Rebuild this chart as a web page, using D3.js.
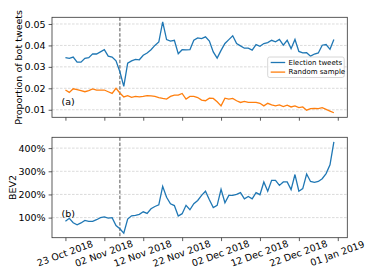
<!DOCTYPE html>
<html>
<head>
<meta charset="utf-8">
<script src="https://cdn.jsdelivr.net/npm/d3@7"></script>
<style>
  body { margin: 0; background: #fff; }
  text { font-family: "DejaVu Sans", sans-serif; fill: #000; }
</style>
</head>
<body>
<div id="chart"></div>
<script>
// daily values, 23 Oct 2018 .. 31 Dec 2018
var startDay = "2018-10-23";
var electionDay = "2018-11-06";

var electionTweets = [
  0.0343, 0.0340, 0.0346, 0.0322, 0.0322, 0.0340, 0.0343, 0.0361, 0.0360, 0.0370,
  0.0380, 0.0350, 0.0346, 0.0328, 0.0277, 0.0209, 0.0317, 0.0328, 0.0335, 0.0333,
  0.0354, 0.0365, 0.0380, 0.0400, 0.0416, 0.0510, 0.0427, 0.0420, 0.0424, 0.0361,
  0.0380, 0.0379, 0.0380, 0.0424, 0.0435, 0.0432, 0.0440, 0.0420, 0.0370, 0.0341,
  0.0377, 0.0409, 0.0427, 0.0445, 0.0409, 0.0398, 0.0387, 0.0387, 0.0378, 0.0404,
  0.0396, 0.0409, 0.0413, 0.0424, 0.0417, 0.0428, 0.0401, 0.0424, 0.0385, 0.0428,
  0.0372, 0.0365, 0.0366, 0.0350, 0.0360, 0.0365, 0.0401, 0.0404, 0.0382, 0.0428
];

var randomSample = [
  0.0192, 0.0181, 0.0198, 0.0194, 0.0189, 0.0184, 0.0189, 0.0197, 0.0192, 0.0192,
  0.0192, 0.0184, 0.0176, 0.0200, 0.0178, 0.0160, 0.0166, 0.0158, 0.0162, 0.0160,
  0.0162, 0.0166, 0.0165, 0.0162, 0.0157, 0.0153, 0.0150, 0.0162, 0.0168, 0.0168,
  0.0176, 0.0150, 0.0162, 0.0162, 0.0157, 0.0145, 0.0142, 0.0154, 0.0153, 0.0137,
  0.0118, 0.0154, 0.0150, 0.0153, 0.0142, 0.0134, 0.0139, 0.0134, 0.0134, 0.0134,
  0.0130, 0.0118, 0.0130, 0.0123, 0.0118, 0.0123, 0.0115, 0.0121, 0.0113, 0.0118,
  0.0110, 0.0113, 0.0098, 0.0105, 0.0106, 0.0105, 0.0110, 0.0102, 0.0094, 0.0086
];

var bev2 = [
  84, 97, 78, 69, 77, 88, 84, 84, 91, 100,
  103, 98, 100, 66, 52, 33, 94, 108, 110, 114,
  125, 118, 138, 148, 155, 235, 188, 160, 152, 107,
  117, 153, 134, 160, 174, 196, 214, 177, 143, 153,
  222, 164, 196, 196, 200, 208, 181, 191, 181, 208,
  199, 254, 214, 261, 261, 239, 254, 254, 221, 286,
  214, 225, 288, 256, 252, 256, 268, 290, 328, 427
];

var xTickLabels = ["2018-10-23", "2018-11-02", "2018-11-12", "2018-11-22",
  "2018-12-02", "2018-12-12", "2018-12-22", "2019-01-01"];
var topTicks = [0.01, 0.02, 0.03, 0.04, 0.05];
var bottomTicks = [100, 200, 300, 400];
var seriesNames = ["Election tweets", "Random sample"];

var svgWidth = 374;
var svgHeight = 280;
var plotLeft = 52, plotRight = 347.3;
var topPanel = { top: 17.3, bottom: 117.3 };
var botPanel = { top: 137.3, bottom: 237.7 };
var blue = "#1f77b4", orange = "#ff7f0e";

function toDate(s) { return new Date(s + "T00:00:00Z"); }
var day0 = toDate(startDay);
var days = electionTweets.map((d, i) => new Date(day0.getTime() + i * 864e5));

var svg = d3.select("#chart")
  .append("svg")
  .attr("width", svgWidth)
  .attr("height", svgHeight);

// matplotlib style 5% margins
function padded(ext) {
  var a = +ext[0], b = +ext[1];
  var p = (b - a) * 0.05;
  return [a - p, b + p];
}

var xd = padded(d3.extent(days));
var xScale = d3.scaleUtc()
  .domain([new Date(xd[0]), new Date(xd[1])])
  .range([plotLeft, plotRight]);

var yTop = d3.scaleLinear()
  .domain(padded(d3.extent(electionTweets.concat(randomSample))))
  .range([topPanel.bottom, topPanel.top]);

var yBot = d3.scaleLinear()
  .domain(padded(d3.extent(bev2)))
  .range([botPanel.bottom, botPanel.top]);

var tickDates = xTickLabels.map(toDate);
var months = ["Jan", "Feb", "Mar", "Apr", "May", "Jun", "Jul", "Aug", "Sep", "Oct", "Nov", "Dec"];
function fmtDate(d) {
  var dd = d.getUTCDate();
  return (dd < 10 ? "0" + dd : dd) + " " + months[d.getUTCMonth()] + " " + d.getUTCFullYear();
}

function drawPanel(p, yScale, ticks, fmt, showXLabels) {
  var g = svg.append("g");

  // horizontal grid
  g.selectAll(".grid")
    .data(ticks)
    .enter()
    .append("line")
    .attr("x1", plotLeft).attr("x2", plotRight)
    .attr("y1", d => yScale(d)).attr("y2", d => yScale(d))
    .attr("stroke", "#cccccc")
    .attr("stroke-width", 0.7)
    .attr("stroke-dasharray", "2.6,1.4");

  // election day marker
  var ex = xScale(toDate(electionDay));
  g.append("line")
    .attr("x1", ex).attr("x2", ex)
    .attr("y1", p.top).attr("y2", p.bottom)
    .attr("stroke", "#555")
    .attr("stroke-width", 1)
    .attr("stroke-dasharray", "3.5,1.8");

  var leftAxis = d3.axisLeft(yScale)
    .tickValues(ticks)
    .tickFormat(fmt)
    .tickSize(3.4)
    .tickPadding(3);
  var yAx = g.append("g")
    .attr("transform", `translate(${plotLeft},0)`)
    .call(leftAxis);
  yAx.select(".domain").remove();
  yAx.selectAll("line").attr("stroke", "#333").attr("stroke-width", 0.8);
  yAx.selectAll("text").attr("font-size", 9.5).attr("font-family", "DejaVu Sans").attr("fill", "#000");

  var bottomAxis = d3.axisBottom(xScale)
    .tickValues(tickDates)
    .tickSize(3.4)
    .tickFormat("");
  var xAx = g.append("g")
    .attr("transform", `translate(0,${p.bottom})`)
    .call(bottomAxis);
  xAx.select(".domain").remove();
  xAx.selectAll("line").attr("stroke", "#333").attr("stroke-width", 0.8);

  if (showXLabels) {
    g.selectAll(".xlab")
      .data(tickDates)
      .enter()
      .append("text")
      .attr("transform", d => `translate(${xScale(d) - 0.5},${p.bottom + 15.5}) rotate(-20)`)
      .attr("text-anchor", "middle")
      .attr("dominant-baseline", "central")
      .attr("font-size", 9.5)
      .text(d => fmtDate(d));
  }
  return g;
}

var gTop = drawPanel(topPanel, yTop, topTicks, d3.format(".2f"), false);
var gBot = drawPanel(botPanel, yBot, bottomTicks, d => d + "%", true);

var makeLine = function(yScale) {
  return d3.line()
    .x((d, i) => xScale(days[i]))
    .y(d => yScale(d));
};

gTop.append("path")
  .datum(electionTweets)
  .attr("fill", "none")
  .attr("stroke", blue)
  .attr("stroke-width", 1.3)
  .attr("d", makeLine(yTop));

gTop.append("path")
  .datum(randomSample)
  .attr("fill", "none")
  .attr("stroke", orange)
  .attr("stroke-width", 1.3)
  .attr("d", makeLine(yTop));

gBot.append("path")
  .datum(bev2)
  .attr("fill", "none")
  .attr("stroke", blue)
  .attr("stroke-width", 1.3)
  .attr("d", makeLine(yBot));

// frames
[topPanel, botPanel].forEach(function(p) {
  svg.append("rect")
    .attr("x", plotLeft).attr("y", p.top)
    .attr("width", plotRight - plotLeft).attr("height", p.bottom - p.top)
    .attr("fill", "none")
    .attr("stroke", "#333")
    .attr("stroke-width", 0.8);
});

// panel labels
svg.append("text").attr("x", 61.5).attr("y", 104.5).attr("font-size", 9.5).text("(a)");
svg.append("text").attr("x", 61.5).attr("y", 216.5).attr("font-size", 9.5).text("(b)");

// axis titles
svg.append("text")
  .attr("transform", `translate(18.5,${(topPanel.top + topPanel.bottom) / 2}) rotate(-90)`)
  .attr("text-anchor", "middle")
  .attr("dominant-baseline", "central")
  .attr("font-size", 9.5)
  .text("Proportion of bot tweets");

svg.append("text")
  .attr("transform", `translate(12,${(botPanel.top + botPanel.bottom) / 2}) rotate(-90)`)
  .attr("text-anchor", "middle")
  .attr("dominant-baseline", "central")
  .attr("font-size", 9.5)
  .text("BEV2");

// legend
var legend = svg.append("g").attr("transform", "translate(267.7,57)");
legend.append("rect")
  .attr("width", 76.5).attr("height", 20.5)
  .attr("rx", 2)
  .attr("fill", "#fff").attr("fill-opacity", 0.8)
  .attr("stroke", "#ccc").attr("stroke-width", 0.8);

var legItems = legend.selectAll(".item")
  .data(seriesNames)
  .enter()
  .append("g")
  .attr("transform", (d, i) => `translate(0,${5.5 + i * 9.6})`);

legItems.append("line")
  .attr("x1", 3).attr("x2", 17.5)
  .attr("stroke", (d, i) => i === 0 ? blue : orange)
  .attr("stroke-width", 1.3);

legItems.append("text")
  .attr("x", 20.8)
  .attr("dominant-baseline", "central")
  .attr("font-size", 7)
  .text(d => d);
</script>
</body>
</html>
